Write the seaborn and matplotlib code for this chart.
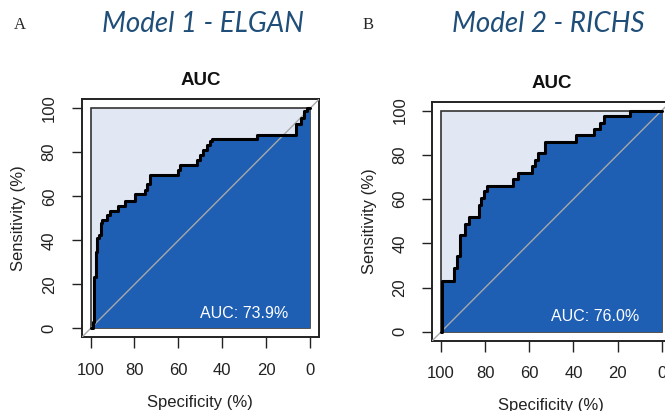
import matplotlib
matplotlib.use('Agg')
import matplotlib.pyplot as plt
import seaborn as sns
from matplotlib.patches import Rectangle

# ROC corners (specificity %, sensitivity % after each jump)
spec_elgan = [100, 98.8, 98.3, 97.7, 97.0, 96.2, 95.4, 94.7, 92.4, 91.2, 87.4, 84.4,
              79.8, 75.2, 74.5, 73.0, 60.1, 59.3, 51.7, 50.2, 48.7, 47.1, 45.6, 44.8,
              24.3, 6.4, 4.2, 2.7, 1.5, 0]
sens_elgan = [0, 3.0, 23.5, 34.9, 41.0, 42.5, 47.8, 49.3, 51.3, 53.4, 55.8, 58.0,
              61.0, 63.0, 65.5, 69.8, 72.1, 74.4, 76.6, 78.9, 81.2, 83.5, 85.0, 86.2,
              88.0, 92.6, 95.6, 98.6, 100, 100]

spec_richs = [100, 99.4, 94.0, 92.8, 91.6, 89.0, 87.5, 83.0, 81.9, 80.7, 79.1, 67.4,
              65.3, 58.8, 57.6, 56.2, 53.0, 38.7, 30.5, 27.8, 26.0, 14.5, 0]
sens_richs = [0, 23.1, 28.9, 34.1, 43.6, 48.6, 52.0, 57.2, 60.7, 63.7, 66.0, 69.0,
              71.8, 75.1, 77.7, 80.9, 86.0, 88.8, 91.8, 94.5, 97.6, 100, 100]

auc_values = [73.9, 76.0]
panel_letters = ['A', 'B']
model_titles = ['Model 1 - ELGAN', 'Model 2 - RICHS']
ticks = [0, 20, 40, 60, 80, 100]

sns.set_style('ticks')
plt.rcParams['font.family'] = ['Liberation Sans', 'DejaVu Sans']

DARK = '#1E5FB4'
LIGHT = '#E1E8F4'


def roc_panel(ax, spec, sens, auc):
    ax.set_xlim(104, -4)
    ax.set_ylim(-4, 104)
    ax.add_patch(Rectangle((0, 0), 100, 100, facecolor=LIGHT, edgecolor='#333333',
                           lw=1.2, zorder=1))
    ax.fill_between(spec, sens, 0, step='post', color=DARK, lw=0, zorder=2)
    ax.axline((100, 0), (0, 100), color='#A8A8A8', lw=1, zorder=3)
    sns.lineplot(x=spec, y=sens, ax=ax, drawstyle='steps-post', estimator=None,
                 sort=False, color='black', lw=2.2, zorder=4)
    ax.text(30, 7, f'AUC: {auc:.1f}%', color='white', fontsize=11.5,
            ha='center', va='center', zorder=5)
    ax.set_title('AUC', fontsize=13.5, fontweight='bold', pad=10, color='#111111')
    ax.set_xticks(ticks)
    ax.set_yticks(ticks)
    ax.tick_params(axis='x', bottom=True, length=8, width=1, pad=10.5, labelsize=12,
                   color='#222222', labelcolor='#222222')
    ax.tick_params(axis='y', left=True, length=7.5, width=1, pad=10.5, labelsize=12,
                   labelrotation=90, color='#222222', labelcolor='#222222')
    for lab in ax.get_yticklabels():
        lab.set_va('center')
    ax.set_xlabel('Specificity (%)', fontsize=12, labelpad=12, color='#222222')
    ax.set_ylabel('Sensitivity (%)', fontsize=12, labelpad=11, color='#222222')
    for sp in ax.spines.values():
        sp.set_visible(True)
        sp.set_color('#222222')
        sp.set_linewidth(1.4)


fig = plt.figure(figsize=(6.65, 4.11), dpi=100)
ax_a = fig.add_axes([0.1229, 0.1793, 0.3568, 0.579])
ax_b = fig.add_axes([0.650, 0.171, 0.3582, 0.5815])

roc_panel(ax_a, spec_elgan, sens_elgan, auc_values[0])
roc_panel(ax_b, spec_richs, sens_richs, auc_values[1])

for xl, xt, letter, title in zip([0.030, 0.553], [0.305, 0.824], panel_letters, model_titles):
    fig.text(xl, 0.939, letter, family=['Liberation Serif', 'DejaVu Serif'],
             fontsize=12, ha='center', va='center')
    fig.text(xt, 0.941, title, family=['Lato', 'DejaVu Sans'], style='italic',
             fontsize=20, color='#1F4E79', ha='center', va='center')

fig.savefig('out.png', dpi=100)
